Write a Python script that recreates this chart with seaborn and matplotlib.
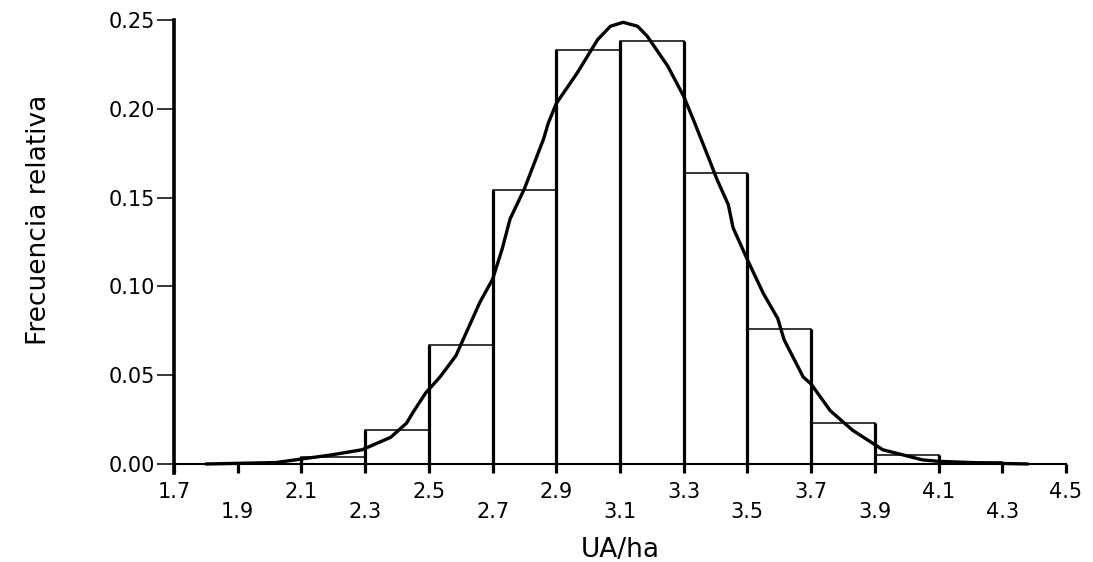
"""
Histograma de frecuencia relativa de UA/ha con curva suavizada.
"""

import numpy as np
import pandas as pd
import matplotlib
matplotlib.use("Agg")
import matplotlib.pyplot as plt
import seaborn as sns

# ── datos ───────────────────────────────────────────────────────────────────
bin_left = [2.1, 2.3, 2.5, 2.7, 2.9, 3.1, 3.3, 3.5, 3.7, 3.9, 4.1]
bin_width = 0.2
rel_freq = [0.004, 0.019, 0.067, 0.154, 0.233, 0.238, 0.164, 0.076, 0.023, 0.005, 0.001]

curve_x = [1.80, 2.02, 2.10, 2.19, 2.29, 2.38, 2.43, 2.45, 2.49, 2.535, 2.585, 2.605,
           2.66, 2.70, 2.73, 2.755, 2.80, 2.86, 2.875, 2.90, 2.965, 3.03, 3.07, 3.11,
           3.155, 3.185, 3.25, 3.30, 3.33, 3.38, 3.405, 3.44, 3.455, 3.50, 3.55, 3.595,
           3.615, 3.675, 3.70, 3.76, 3.83, 3.925, 4.05, 4.10, 4.25, 4.38]
curve_y = [0.0, 0.0008, 0.0028, 0.005, 0.008, 0.015, 0.023, 0.029, 0.040, 0.049, 0.061, 0.069,
           0.091, 0.104, 0.121, 0.138, 0.155, 0.183, 0.192, 0.203, 0.220, 0.239, 0.2465, 0.2487,
           0.2465, 0.241, 0.224, 0.207, 0.194, 0.1715, 0.160, 0.146, 0.133, 0.115, 0.096, 0.082,
           0.070, 0.049, 0.045, 0.030, 0.019, 0.008, 0.0023, 0.0015, 0.0005, 0.0]

xtick_major = [1.7, 2.1, 2.5, 2.9, 3.3, 3.7, 4.1, 4.5]
xtick_minor = [1.9, 2.3, 2.7, 3.1, 3.5, 3.9, 4.3]
ytick_values = [0.00, 0.05, 0.10, 0.15, 0.20, 0.25]

x_label = "UA/ha"
y_label = "Frecuencia relativa"


def main():
    sns.set_theme(style="white")
    plt.rcParams['font.family'] = ['DejaVu Sans']

    df = pd.DataFrame({
        'centro': [b + bin_width / 2 for b in bin_left],
        'frec': rel_freq,
    })
    edges = [round(b, 2) for b in bin_left] + [round(bin_left[-1] + bin_width, 2)]

    fig = plt.figure(figsize=(10.93, 5.62), dpi=100)
    ax = fig.add_axes([0.1592, 0.1744, 0.8161, 0.790])

    # barras del histograma (relleno blanco, borde negro)
    sns.histplot(data=df, x='centro', weights='frec', bins=edges, stat='count',
                 color='white', edgecolor='black', linewidth=1.1, alpha=1.0, ax=ax, zorder=2)

    # bordes verticales mas gruesos, como en el original
    edge_h = [max(a, b) for a, b in zip([0] + rel_freq, rel_freq + [0])]
    ax.vlines(edges, 0, edge_h, colors='black', linewidth=2.3, zorder=3)

    # curva suavizada
    sns.lineplot(x=curve_x, y=curve_y, color='black', linewidth=2.4, ax=ax, zorder=4)
    for ln in ax.lines:
        ln.set_clip_on(False)
        ln.set_solid_joinstyle('round')

    ax.set_xlim(1.7, 4.5)
    ax.set_ylim(0, 0.25)

    # ejes
    for side in ['top', 'right']:
        ax.spines[side].set_visible(False)
    ax.spines['left'].set_linewidth(2.6)
    ax.spines['left'].set_color('black')
    ax.spines['left'].set_bounds(-0.005, 0.25)
    ax.spines['bottom'].set_linewidth(1.5)
    ax.spines['bottom'].set_color('black')

    ax.set_xticks(xtick_major)
    ax.set_xticklabels([f"{v:.1f}" for v in xtick_major])
    ax.set_xticks(xtick_minor, minor=True)
    ax.set_xticklabels([f"{v:.1f}" for v in xtick_minor], minor=True)
    ax.set_yticks(ytick_values)
    ax.set_yticklabels([f"{v:.2f}" for v in ytick_values])

    ax.tick_params(axis='x', which='both', direction='out', length=6.5, width=2.3,
                   color='black', labelsize=15, labelcolor='black', bottom=True)
    ax.tick_params(axis='x', which='major', pad=6.5)
    ax.tick_params(axis='x', which='minor', pad=21)
    ax.tick_params(axis='y', direction='out', length=12, width=1.1, color='black',
                   labelsize=15, labelcolor='black', pad=1.5, left=True)

    ax.set_xlabel(x_label, fontsize=19, color='black')
    ax.xaxis.set_label_coords(0.5, -0.165)
    ax.set_ylabel(y_label, fontsize=19, color='black')
    ax.yaxis.set_label_coords(-0.137, 0.55)

    ax.grid(False)
    fig.savefig('out.png', dpi=100, facecolor='white')


if __name__ == '__main__':
    main()
